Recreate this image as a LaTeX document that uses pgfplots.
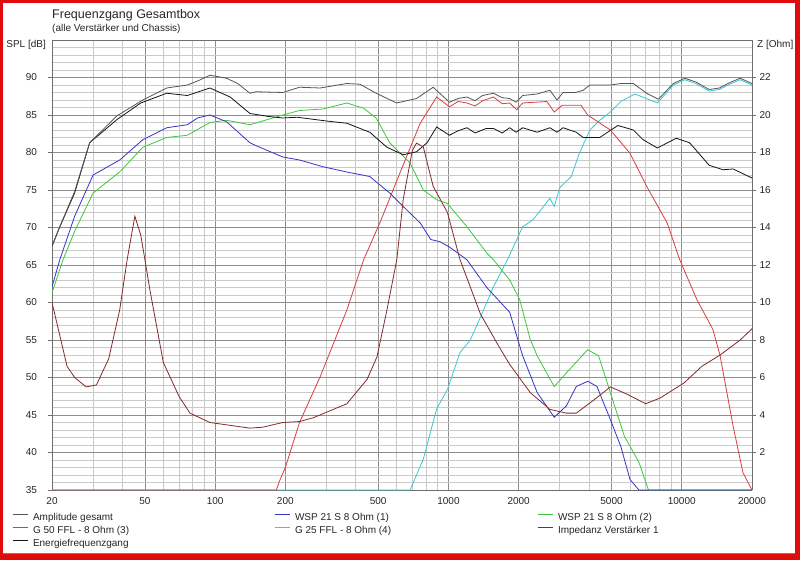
\documentclass[border=0pt]{standalone}
\usepackage{fontspec}
\setmainfont{Liberation Sans}
\usepackage{pgfplots}
\pgfplotsset{compat=1.18}
\definecolor{cA}{HTML}{555555}
\definecolor{cE}{HTML}{141414}
\definecolor{cW1}{HTML}{3535C8}
\definecolor{cW2}{HTML}{3CC83C}
\definecolor{cG50}{HTML}{DC3C3C}
\definecolor{cG25}{HTML}{3CC8D2}
\definecolor{cImp}{HTML}{842A2A}
\definecolor{gridmaj}{HTML}{8E8E8E}
\definecolor{gridmin}{HTML}{CACACA}
\definecolor{frame}{HTML}{6E6E6E}
\definecolor{border}{HTML}{E00C0C}
\newcommand\LA[2]{\hspace*{5pt}\makebox[#1][l]{#2}}
\begin{document}
\begin{tikzpicture}[x=1pt,y=1pt]
\path[use as bounding box] (0,0) rectangle (800,560);
\fill[border] (0,0) rectangle (800,560);
\fill[white] (3,6) rectangle (795,557);
\draw[gray, line width=1pt] (3,7) -- (795,7);
\begin{axis}[
  at={(52pt,70pt)}, anchor=south west, scale only axis,
  width=700pt, height=450pt,
  xmode=log, log basis x=10, xmin=20, xmax=20000, ymin=35, ymax=95,
  xtick={20,50,100,200,500,1000,2000,5000,10000,20000},
  xticklabels={20,50,100,200,500,1000,2000,5000,10000,20000},
  minor xtick={30,40,60,70,80,90,300,400,600,700,800,900,3000,4000,6000,7000,8000,9000},
  ytick={35,40,...,90},
  minor ytick={36,...,94},
  grid=both,
  major grid style={color=gridmaj, line width=0.6pt},
  minor grid style={color=gridmin, line width=0.6pt},
  axis line style={color=frame, line width=0.6pt},
  axis y line*=left,
  tick align=outside, major tick length=4pt, minor tick length=0pt,
  xtick style={draw=none}, ytick style={color=frame, line width=0.6pt},
  ticklabel style={font=\fontsize{10}{12}\selectfont, text=black!85},
  /pgf/number format/assume math mode=true,
  yticklabel style={xshift=-7.5pt},
  every axis plot/.append style={line width=0.8pt, mark=none},
]
% G 25 FFL (4)
\addplot[cG25] coordinates {(20,35) (685,35) (780,39.1) (890,45.8) (990,48.4) (1120,53.3) (1240,55) (1370,58) (1560,62.1) (1790,65.7) (2080,70.1) (2300,71) (2720,73.9) (2840,72.8) (3000,75.3) (3360,76.8) (3640,79.9) (4040,83) (4450,84.3) (4940,85.4) (5480,86.8) (6300,87.8) (7860,86.6) (9200,89) (10300,89.7) (11500,89.2) (13100,88.2) (14500,88.4) (16000,89.1) (17800,89.7) (20000,89)};
% G 50 FFL (3)
\addplot[cG50] coordinates {(20,35) (183,35) (190,36.4) (200,38) (230,44) (282,50.1) (367,59) (433,65.7) (508,70.6) (620,77.3) (757,83.9) (890,87.4) (1010,86.1) (1100,86.8) (1200,86.6) (1300,86.2) (1400,86.9) (1560,87.4) (1700,86.5) (1830,86.6) (1960,85.7) (2080,86.6) (2640,86.8) (2840,85.4) (3070,86.3) (3700,86.3) (3950,85) (4940,83) (6000,79.9) (7070,75.5) (8660,70.6) (9800,65.7) (11600,60.4) (13600,56.4) (14600,52.9) (16600,43.5) (18300,37.3) (20000,35)};
% WSP 21 S (2)
\addplot[cW2] coordinates {(20,61.3) (22.3,65.7) (25,69.5) (30,74.6) (39,77.4) (49,80.7) (62,82) (76,82.3) (95,84) (112,84.3) (141,83.7) (195,85) (230,85.6) (290,85.8) (367,86.6) (433,85.9) (490,84.6) (560,81.3) (685,78.6) (780,75) (890,73.7) (990,73.2) (1200,70.1) (1460,66.6) (1560,65.7) (1830,63) (2020,60.4) (2240,55.1) (2400,52.9) (2840,48.8) (3200,50.6) (3950,53.7) (4400,52.9) (4940,48) (5670,42.2) (6550,38.7) (7200,35) (20000,35)};
% WSP 21 S (1)
\addplot[cW1] coordinates {(20,62.1) (21.6,65.7) (25,71.5) (30,77) (39,79) (49,81.7) (62,83.3) (76,83.7) (84,84.6) (95,85) (112,84.1) (141,81.3) (150,80.9) (195,79.4) (230,79) (290,78.1) (367,77.4) (460,76.8) (560,74.6) (660,72.4) (757,70.6) (840,68.4) (920,68.1) (1010,67.4) (1200,65.7) (1460,62) (1830,58.7) (2080,52.9) (2400,48) (2840,44.7) (3200,46.2) (3530,48.8) (3960,49.5) (4330,48.8) (4940,44.4) (5480,40.8) (6000,36.4) (6550,35) (20000,35)};
% Energiefrequenzgang
\addplot[cE] coordinates {(20,67.5) (21.6,70.1) (25,74.6) (29,81.3) (38,84.4) (48,86.6) (62,87.9) (76,87.6) (95,88.6) (116,87.4) (141,85.2) (170,84.8) (195,84.6) (225,84.7) (300,84.2) (367,83.9) (460,82.7) (545,80.7) (640,79.7) (730,80.1) (810,81.3) (890,83.4) (1010,82.3) (1100,82.9) (1200,83.3) (1300,82.6) (1450,83.2) (1560,83.2) (1700,82.6) (1830,83.3) (1950,82.7) (2080,83.3) (2400,82.7) (2720,83.3) (2920,82.7) (3100,83.3) (3530,82.7) (3780,82) (4450,82) (5320,83.6) (6200,83) (6830,81.7) (7860,80.6) (9470,81.9) (10800,81.3) (13100,78.3) (15000,77.7) (16600,77.8) (20000,76.6)};
% Amplitude gesamt
\addplot[cA] coordinates {(20,67.5) (21.6,70.1) (25,74.8) (29,81.3) (38,84.9) (49,87) (62,88.6) (76,89) (85,89.6) (95,90.3) (112,89.9) (125,89.2) (141,87.9) (150,88.1) (195,88) (230,88.7) (282,88.6) (367,89.2) (418,89.1) (490,87.9) (600,86.6) (730,87.2) (860,88.7) (1010,86.7) (1100,87.2) (1200,87.4) (1300,86.9) (1400,87.6) (1560,87.9) (1700,87.3) (1830,87.2) (1950,86.7) (2080,87.6) (2400,87.8) (2720,88.3) (2920,87) (3100,88) (3500,88) (3780,88.3) (4040,89) (4940,89) (5500,89.2) (6200,89.2) (7070,87.9) (7940,87.1) (9200,89.2) (10300,89.9) (11500,89.4) (13100,88.4) (14500,88.6) (16000,89.3) (17800,89.9) (20000,89.2)};
\end{axis}
\begin{axis}[
  at={(52pt,70pt)}, anchor=south west, scale only axis,
  width=700pt, height=450pt,
  xmode=log, xmin=20, xmax=20000, ymin=0, ymax=24,
  axis x line=none, axis y line*=right,
  ytick={2,4,...,22},
  axis line style={color=frame, line width=0.6pt},
  tick align=outside, major tick length=4pt, minor tick length=0pt,
  ytick style={color=frame, line width=0.6pt},
  ticklabel style={font=\fontsize{10}{12}\selectfont, text=black!85},
  /pgf/number format/assume math mode=true,
  every axis plot/.append style={line width=0.8pt, mark=none},
  legend image code/.code={\draw[#1, line width=1pt] (0pt,3.3pt) -- (15pt,3.3pt);},
  legend columns=3,
  legend cell align=left,
  legend style={draw=none, fill=none, inner sep=0pt, outer sep=0pt,
    at={(-0.05714,-0.0511)}, anchor=north west,
    font=\fontsize{10}{12}\selectfont, text=black!85,
    row sep=3pt, column sep=0pt,
    nodes={inner sep=0pt, text height=7.5pt, text depth=2.5pt}},
]
\addlegendimage{cA}
\addlegendimage{cW1}
\addlegendimage{cW2}
\addlegendimage{cG50}
\addlegendimage{cG25}
% Impedanz Verstaerker 1 (Z in Ohm)
\addplot[cImp] coordinates {(20,10.0) (23.2,6.6) (25,6.0) (28,5.5) (31,5.6) (35,7.0) (39,9.6) (42,12.3) (45.3,14.6) (48,13.6) (50,12.3) (52.5,10.7) (60,6.8) (70,5.0) (78,4.1) (95,3.6) (141,3.3) (160,3.35) (195,3.6) (230,3.65) (263,3.85) (367,4.6) (448,5.9) (494,7.1) (545,9.6) (601,12.3) (640,15.5) (700,18.1) (730,18.5) (780,18.3) (860,16.2) (990,14.8) (1120,12.3) (1370,9.4) (1620,7.8) (1830,6.7) (2240,5.2) (2720,4.3) (3200,4.1) (3530,4.1) (4200,4.8) (4940,5.5) (5850,5.1) (7000,4.6) (8060,4.9) (10200,5.7) (12200,6.6) (14600,7.2) (17800,8) (20000,8.6)};
\addlegendimage{cE}
\legend{\LA{241pt}{Amplitude gesamt},\LA{242pt}{WSP 21 S 8 Ohm (1)},\LA{100pt}{WSP 21 S 8 Ohm (2)},\LA{241pt}{G 50 FFL - 8 Ohm (3)},\LA{242pt}{G 25 FFL - 8 Ohm (4)},\LA{100pt}{Impedanz Verstärker 1},\LA{241pt}{Energiefrequenzgang}}
\end{axis}
\node[anchor=base west, inner sep=0pt, font=\fontsize{12.5}{15}\selectfont, text=black!85] at (52,541.5) {Frequenzgang Gesamtbox};
\node[anchor=base west, inner sep=0pt, font=\fontsize{10}{12}\selectfont, text=black!85] at (52,528.3) {(alle Verstärker und Chassis)};
\node[anchor=base east, inner sep=0pt, font=\fontsize{10}{12}\selectfont, text=black!85] at (46,512.4) {SPL [dB]};
\node[anchor=base west, inner sep=0pt, font=\fontsize{10}{12}\selectfont, text=black!85] at (757,512.4) {Z [Ohm]};
\end{tikzpicture}
\end{document}
